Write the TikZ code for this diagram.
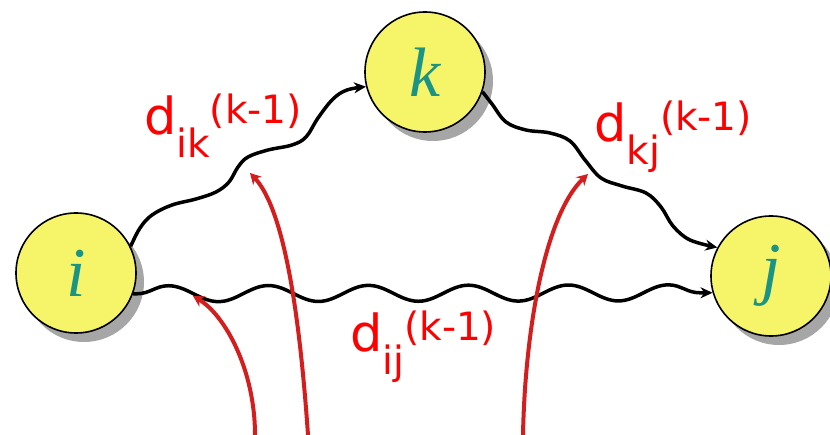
\documentclass[tikz,border=0pt]{standalone}
\usepackage{fontspec}
\setmainfont{Liberation Serif}
\newfontfamily\labfont{DejaVu Sans}
\usetikzlibrary{arrows.meta,decorations.pathmorphing,shadows}
\definecolor{nodeyellow}{HTML}{F6F56A}
\definecolor{letterteal}{HTML}{1A9485}
\definecolor{arrowred}{HTML}{D41E1E}
\definecolor{labred}{HTML}{FF0000}
\newcommand{\dlabel}[1]{{\fontsize{51}{51}\selectfont d}\raisebox{-23pt}{\fontsize{39}{39}\selectfont #1}\raisebox{11pt}{\fontsize{39}{39}\selectfont (k-1)}}
\tikzset{
  vertex/.style={circle, draw=black, line width=1.6pt, fill=nodeyellow,
    minimum size=120pt, inner sep=0pt, text=letterteal,
    font=\fontsize{70}{70}\selectfont\itshape,
    drop shadow={shadow xshift=8pt, shadow yshift=-9pt, fill=black!50, opacity=0.7}},
  blackedge/.style={draw=black, line width=3.5pt, line join=round,
    -{Stealth[length=12pt,width=11pt]}},
  wavy/.style 2 args={blackedge, decorate,
    decoration={snake, amplitude=#1, segment length=#2, pre length=4pt, post length=12pt}},
  redarrow/.style={draw=arrowred, line width=4pt, -{Stealth[length=11pt,width=12pt]}},
  dlab/.style={anchor=base west, inner sep=0pt, text=labred, font=\labfont}
}
\begin{document}
\begin{tikzpicture}[x=1pt,y=1pt]
\useasboundingbox (0,0) rectangle (830,-435);
\node[vertex] (i) at (76,-273) {i};
\node[vertex] (k) at (425,-72) {k};
\node[vertex] (j) at (771,-276) {j};
% black wavy edges
\draw[blackedge] plot[smooth, tension=0.6] coordinates {(i.26) (140,-228) (152,-215) (172,-205) (196,-199) (216,-192) (229,-182) (238,-167) (248,-157) (268,-150) (292,-145) (306,-137) (318,-118) (333,-99) (347,-90) (k.194)};
\draw[blackedge] plot[smooth, tension=0.6] coordinates {(k.-19) (492,-104) (506,-122) (526,-130) (550,-133) (570,-141) (585,-160) (601,-178) (622,-186) (646,-193) (661,-207) (673,-226) (690,-240) (j.152)};
\draw[wavy={8pt}{100pt}] (i.-20) -- (j.196);
% red arrows
\coordinate (r1s) at (255,-435);
\coordinate (r1e) at (193,-296);
\coordinate (r2s) at (308,-435);
\coordinate (r2e) at (250,-173);
\coordinate (r3s) at (523,-435);
\coordinate (r3e) at (588,-174);
\draw[redarrow] (r1s) .. controls (255,-370) and (225,-315) .. (r1e);
\draw[redarrow] (r2s) .. controls (300,-320) and (285,-210) .. (r2e);
\draw[redarrow] (r3s) .. controls (525,-330) and (545,-215) .. (r3e);
% labels
\node[dlab] (lik) at (144,-135) {\dlabel{ik}};
\node[dlab] (lkj) at (594,-142) {\dlabel{kj}};
\node[dlab] (lij) at (350,-352) {\dlabel{ij}};
\end{tikzpicture}
\end{document}
